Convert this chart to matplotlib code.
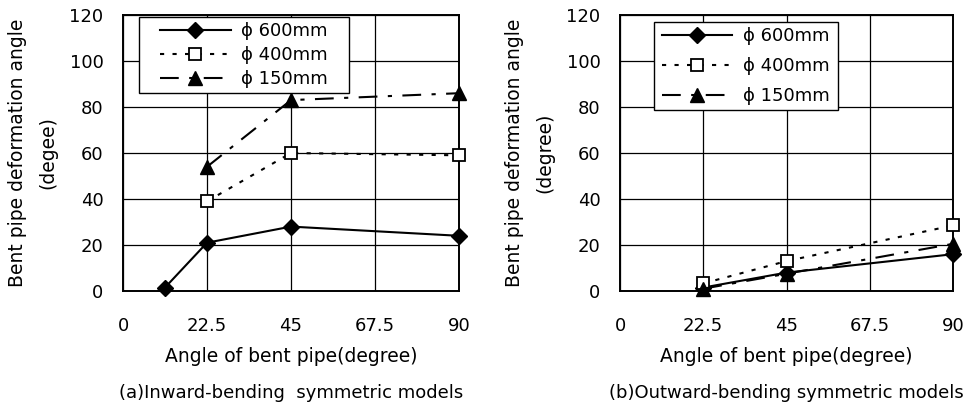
import matplotlib
matplotlib.use("Agg")
import matplotlib.pyplot as plt
from matplotlib.patches import Rectangle

plt.rcParams["font.family"] = ["DejaVu Sans"]

# angle of bent pipe (degree)
x_in_600 = [11.25, 22.5, 45, 90]
x_std = [22.5, 45, 90]

# (a) inward-bending
in_600 = [1.5, 21, 28, 24]
in_400 = [39, 60, 59]
in_150 = [54, 83, 86]

# (b) outward-bending
out_600 = [1.5, 8, 16]
out_400 = [3.3, 13, 28.5]
out_150 = [1, 7.5, 20.5]

x_ticks = [0, 22.5, 45, 67.5, 90]
x_tick_labels = ["0", "22.5", "45", "67.5", "90"]
y_ticks = [0, 20, 40, 60, 80, 100, 120]

labels = ["ϕ 600mm", "ϕ 400mm", "ϕ 150mm"]

fig = plt.figure(figsize=(9.72, 4.12), dpi=100)
W, H = 972, 412


def make_axes(left_px, right_px, top_px, bottom_px):
    return fig.add_axes([left_px / W, (H - bottom_px) / H,
                         (right_px - left_px) / W, (bottom_px - top_px) / H])


def style(ax, ylabel, caption, leg_box, spacing):
    ax.set_xlim(0, 90)
    ax.set_ylim(0, 120)
    ax.set_xticks(x_ticks)
    ax.set_xticklabels(x_tick_labels)
    ax.set_yticks(y_ticks)
    ax.tick_params(length=0, labelsize=13)
    ax.tick_params(axis="x", pad=19)
    ax.tick_params(axis="y", pad=14)
    ax.grid(True, color="black", linewidth=0.9)
    ax.set_axisbelow(True)
    for s in ax.spines.values():
        s.set_color("black")
        s.set_linewidth(1.4)
    ax.set_ylabel(ylabel, fontsize=13.5, labelpad=9, linespacing=1.7)
    ax.set_xlabel("Angle of bent pipe(degree)", fontsize=13.5, labelpad=8)
    ax.text(0.5, -0.37, caption, transform=ax.transAxes, ha="center",
            va="center", fontsize=13)
    # legend frame, then legend contents centred inside it
    x0, y0, x1, y1 = leg_box
    ax.add_patch(Rectangle((x0, y0), x1 - x0, y1 - y0, transform=ax.transAxes,
                           facecolor="white", edgecolor="black",
                           linewidth=1.0, zorder=4, clip_on=False))
    leg = ax.legend(loc="center", bbox_to_anchor=(x0, y0, x1 - x0, y1 - y0),
                    borderaxespad=0, frameon=False, fontsize=13,
                    handlelength=3.9, handletextpad=0.6,
                    labelspacing=spacing, borderpad=0)
    leg.set_zorder(5)


def draw(ax, xa, a, xb, b, xc, c):
    ax.plot(xa, a, color="black", linestyle="-", linewidth=1.5,
            marker="D", markersize=8, markerfacecolor="black",
            label=labels[0], clip_on=False, zorder=3)
    ax.plot(xb, b, color="black", linestyle=(0, (2, 4)), linewidth=1.5,
            marker="s", markersize=8.5, markerfacecolor="white",
            markeredgewidth=1.3, label=labels[1], clip_on=False, zorder=3)
    ax.plot(xc, c, color="black", linestyle=(0, (9, 5, 2, 5)), linewidth=1.5,
            marker="^", markersize=9.5, markerfacecolor="black",
            label=labels[2], clip_on=False, zorder=3)


ax1 = make_axes(123, 459, 15, 291)
draw(ax1, x_in_600, in_600, x_std, in_400, x_std, in_150)
style(ax1, "Bent pipe deformation angle\n(degee)",
      "(a)Inward-bending  symmetric models",
      (0.048, 0.717, 0.673, 0.993), 0.33)

ax2 = make_axes(620, 953, 15, 291)
draw(ax2, x_std, out_600, x_std, out_400, x_std, out_150)
style(ax2, "Bent pipe deformation angle\n(degree)",
      "(b)Outward-bending symmetric models",
      (0.102, 0.656, 0.655, 0.975), 0.67)

fig.savefig("out.png", dpi=100)
